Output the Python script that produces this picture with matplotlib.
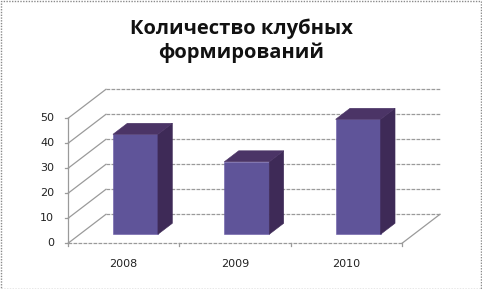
import matplotlib
matplotlib.use("Agg")
import matplotlib.pyplot as plt
from matplotlib.patches import Polygon, Rectangle

# ---- data ----
categories = ["2008", "2009", "2010"]
values = [40, 29, 46]
yticks = [0, 10, 20, 30, 40, 50]
title = "Количество клубных\nформирований"

# ---- pseudo-3D geometry (in data units) ----
DX = 0.341      # depth shift in category units
DY = 11.6       # depth shift in value units
F0, F1 = 0.31, 0.69   # bar front/back depth fractions
BW = 0.404      # bar width

FRONT = "#5f5499"
SIDE = "#3e2a57"
TOP = "#4b3466"
GRID = "#9a9a9a"

W, H = 482, 289
fig = plt.figure(figsize=(W / 100, H / 100), dpi=100)

# axes placement: x 0 -> px 68, 3 -> px 402 ; y 0 -> px 243.3 (from top), 2.5 px/unit
pxx = (402 - 68) / 3.0
pxy = 2.5
x0, x1 = -0.15, 3.5
y0, y1 = -2, 64
left_px = 68 + x0 * pxx
bottom_px = (H - 243.3) + y0 * pxy
ax = fig.add_axes([left_px / W, bottom_px / H, (x1 - x0) * pxx / W, (y1 - y0) * pxy / H])
ax.set_xlim(x0, x1)
ax.set_ylim(y0, y1)
ax.axis("off")

n = len(categories)
lw = 0.9
ls = (0, (3, 1))
# back wall gridlines and left wall diagonals
for v in yticks:
    ax.plot([DX, n + DX], [v + DY, v + DY], color=GRID, lw=lw, ls=ls, zorder=1)
    ax.plot([0, DX], [v, v + DY], color=GRID, lw=lw, zorder=1)
    ax.plot([-0.03, 0], [v, v], color=GRID, lw=lw, zorder=1)
    ax.text(-0.125, v, str(v), ha="right", va="center", fontsize=8, color="#222222")
# front y axis
ax.plot([0, 0], [0, yticks[-1]], color=GRID, lw=lw, zorder=1)
# floor front edge and right edge
ax.plot([0, n], [0, 0], color=GRID, lw=lw, ls=ls, zorder=1)
ax.plot([n, n + DX], [0, DY], color=GRID, lw=lw, zorder=1)
for i in range(n + 1):
    ax.plot([i, i], [0, -1.2], color=GRID, lw=lw, zorder=1)

# bars
for i, (c, v) in enumerate(zip(categories, values)):
    cx = i + 0.5 + F0 * DX
    b = F0 * DY
    ax.bar(cx, v, width=BW, bottom=b, color=FRONT, edgecolor="#6a5aa8", lw=0.4, zorder=3)
    ddx = (F1 - F0) * DX
    ddy = (F1 - F0) * DY
    xl, xr = cx - BW / 2, cx + BW / 2
    side = Polygon([(xr, b), (xr, b + v), (xr + ddx, b + v + ddy), (xr + ddx, b + ddy)],
                   closed=True, facecolor=SIDE, edgecolor=SIDE, lw=0.4, zorder=3)
    top = Polygon([(xl, b + v), (xr, b + v), (xr + ddx, b + v + ddy), (xl + ddx, b + v + ddy)],
                  closed=True, facecolor=TOP, edgecolor=TOP, lw=0.4, zorder=3)
    ax.add_patch(side)
    ax.add_patch(top)
    ax.text(i + 0.5, -8.4, c, ha="center", va="center", fontsize=8, color="#222222")

fig.text(0.5, 1 - 41 / H, title, ha="center", va="center", fontsize=14.5,
         fontweight="bold", family="Open Sans", linespacing=1.25, color="#111111")

# dotted frame around the figure
fig.patches.append(Rectangle((0.5 / W, 0.5 / H), 1 - 1.5 / W, 1 - 1.5 / H, transform=fig.transFigure,
                             fill=False, edgecolor="#8a8a8a", lw=1, linestyle=(0, (1, 1))))

fig.savefig("out.png", dpi=100)
